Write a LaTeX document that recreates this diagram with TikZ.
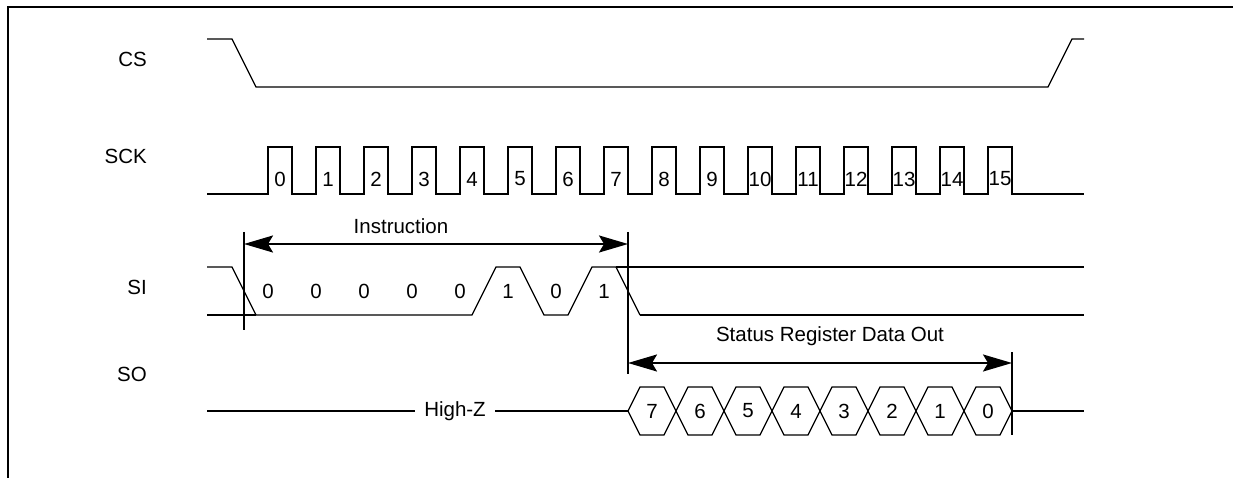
\documentclass[tikz,border=0pt]{standalone}
\usepackage{fontspec}
\setmainfont{Liberation Sans}
\usetikzlibrary{arrows.meta}
\begin{document}
\begin{tikzpicture}[x=1pt,y=-1pt,
  font=\fontsize{20.5}{24}\selectfont,
  thinwave/.style={line width=1.2pt, line join=miter},
  thickwave/.style={line width=2pt, line join=miter},
  marker/.style={line width=2pt},
  dimarrow/.style={line width=2pt, {Stealth[length=29pt,width=17pt,inset=5pt]}-{Stealth[length=29pt,width=17pt,inset=5pt]}},
  sig/.style={anchor=east, inner sep=0pt},
  bit/.style={inner sep=0pt}]
\useasboundingbox (0,0) rectangle (1233,478);
% frame
\draw[line width=2pt] (1260,7) -- (8,7) -- (8,500);

% signal labels
\node[sig] (lcs)  at (147,59)  {CS};
\node[sig] (lsck) at (147,156) {SCK};
\node[sig] (lsi)  at (147,287) {SI};
\node[sig] (lso)  at (147,374) {SO};

% CS
\draw[thinwave] (207,39) -- (232,39) -- (256,87) -- (1048,87) -- (1072,39) -- (1084,39);

% SCK
\draw[thickwave] (207,194)
  foreach \k in {0,...,15} { -- ({268+48*\k},194) -- ({268+48*\k},147) -- ({292+48*\k},147) -- ({292+48*\k},194) }
  -- (1084,194);
\foreach \k in {0,...,15} \node[bit] (ck\k) at ({280+48*\k},179) {\k};

% SI
\draw[thinwave] (207,267) -- (232,267) -- (256,315) -- (472,315) -- (496,267) -- (520,267)
  -- (544,315) -- (568,315) -- (592,267) -- (616,267) -- (640,315);
\draw[thickwave] (207,315) -- (256,315);
\draw[thickwave] (616,267) -- (1084,267);
\draw[thickwave] (640,315) -- (1084,315);
\foreach \v [count=\i from 0] in {0,0,0,0,0,1,0,1}
  \node[bit] (si\i) at ({268+48*\i},291) {\v};

% SO
\draw[thickwave] (207,411) -- (628,411);
\node[fill=white, inner xsep=9pt, inner ysep=2pt] (hz) at (455,411) {High-Z};
\foreach \v [count=\i from 0] in {7,6,5,4,3,2,1,0} {
  \draw[thinwave] ({628+48*\i},411) -- ({640+48*\i},387) -- ({664+48*\i},387) -- ({676+48*\i},411)
    -- ({664+48*\i},435) -- ({640+48*\i},435) -- cycle;
  \node[bit] (so\i) at ({652+48*\i},411) {\v};
}
\draw[thickwave] (1012,411) -- (1084,411);

% markers
\coordinate (m1t) at (244,232); \coordinate (m1b) at (244,330);
\coordinate (m2t) at (628,232); \coordinate (m2b) at (628,374);
\coordinate (m3t) at (1012,352); \coordinate (m3b) at (1012,435);
\draw[marker] (m1t) -- (m1b);
\draw[marker] (m2t) -- (m2b);
\draw[marker] (m3t) -- (m3b);

% dimension arrows
\coordinate (ia) at (244,244); \coordinate (ib) at (628,244);
\draw[dimarrow] (ia) -- (ib);
\node (instr) at (401,226) {Instruction};
\coordinate (sa) at (628,363); \coordinate (sb) at (1012,363);
\draw[dimarrow] (sa) -- (sb);
\node (stat) at (830,336) {Status Register Data Out};
\end{tikzpicture}
\end{document}
